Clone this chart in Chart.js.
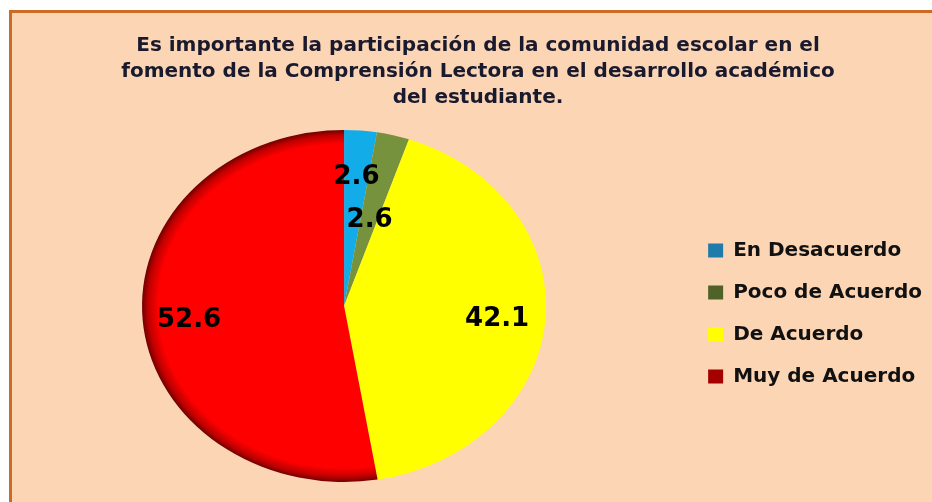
<!DOCTYPE html>
<html>
<head>
<meta charset="utf-8">
<script src="https://cdn.jsdelivr.net/npm/chart.js@4.4.0/dist/chart.umd.min.js"></script>
<style>
  html, body { margin: 0; padding: 0; background: #fff; overflow: hidden; }
  #frame {
    position: absolute; left: 9px; top: 10px;
    width: 1000px; height: 520px;
    border: 3px solid #CC6B24;
    background: #FCD5B5;
  }
  #c { position: absolute; left: 0; top: 0; }
</style>
</head>
<body>
<div id="frame"><canvas id="c" width="934" height="500"></canvas></div>
<script>
const categories = ['En Desacuerdo', 'Poco de Acuerdo', 'De Acuerdo', 'Muy de Acuerdo']
const values = [2.6, 2.6, 42.1, 52.6]
const titleLines = [
    'Es importante la participación de la comunidad escolar en el',
    'fomento de la Comprensión Lectora en el desarrollo académico',
    'del estudiante.'
]

const sliceColors = ['#12ADE8', '#76923C', '#FFFF00', '#FF0000']
const legendColors = ['#1F7BAA', '#4F6228', '#FFFF00', '#A50000']
const labelRadius = [0.75, 0.52, 0.76, 0.77]
const pieRadius = 176
const stretchX = 1.148

// pie is drawn a bit wider than tall, like the original
const ellipsePlugin = {
    id: 'ellipse',
    beforeDatasetsDraw(chart) {
        const a = chart.getDatasetMeta(0).data[0]
        const ctx = chart.ctx
        ctx.save()
        ctx.translate(a.x, a.y)
        ctx.scale(stretchX, 1)
        ctx.translate(-a.x, -a.y)
    },
    afterDatasetsDraw(chart) {
        const ctx = chart.ctx
        ctx.restore()
        ctx.save()
        ctx.font = 'bold 26px "DejaVu Sans"'
        ctx.fillStyle = '#000'
        ctx.textAlign = 'center'
        ctx.textBaseline = 'middle'
        chart.getDatasetMeta(0).data.forEach((arc, i) => {
            const mid = (arc.startAngle + arc.endAngle) / 2
            const r = arc.outerRadius * labelRadius[i]
            const x = arc.x + Math.cos(mid) * r * stretchX
            const y = arc.y + Math.sin(mid) * r + 3
            ctx.fillText(values[i].toFixed(1), x, y)
        })
        ctx.restore()
    }
}

// empty box between the pie and the legend
const spacerPlugin = {
    id: 'spacer',
    beforeInit(chart) {
        Chart.layouts.addBox(chart, {
            position: 'right',
            weight: 500,
            fullSize: false,
            options: {},
            isHorizontal() { return false },
            update(maxWidth, maxHeight) {
                this.width = 22
                this.height = maxHeight
            },
            draw() {}
        })
    }
}

// red slice gets the dark rim of the original
function sliceFill(context) {
    const i = context.dataIndex
    const area = context.chart.chartArea
    if (i !== 3 || !area) return sliceColors[i]
    const cx = (area.left + area.right) / 2
    const cy = (area.top + area.bottom) / 2
    const g = context.chart.ctx.createRadialGradient(cx, cy, 0, cx, cy, pieRadius)
    g.addColorStop(0, '#FF0000')
    g.addColorStop(0.92, '#FF0000')
    g.addColorStop(0.97, '#C00000')
    g.addColorStop(1, '#700000')
    return g
}

let ctx = document.getElementById('c').getContext('2d')
let myChart = new Chart(ctx, {
    type: 'pie',
    data: {
        labels: categories,
        datasets: [{
            data: values,
            backgroundColor: sliceFill,
            borderWidth: 0,
            hoverOffset: 0,
            radius: pieRadius
        }]
    },
    options: {
        responsive: false,
        animation: false,
        layout: {
            padding: { left: 12, right: 14, top: 0, bottom: 31 }
        },
        plugins: {
            tooltip: { enabled: false },
            title: {
                display: true,
                text: titleLines,
                color: '#1a1a2e',
                font: { family: '"DejaVu Sans"', size: 20, weight: 'bold', lineHeight: 1.3 },
                padding: { top: 20, bottom: 19 }
            },
            legend: {
                position: 'right',
                align: 'start',
                fullSize: false,
                maxWidth: 300,
                title: { display: true, text: '', font: { size: 12 }, padding: { top: 74, bottom: 0 } },
                labels: {
                    boxWidth: 15,
                    boxHeight: 14,
                    padding: 22,
                    color: '#000',
                    font: { family: '"DejaVu Sans"', size: 20, weight: 'bold' },
                    generateLabels: (chart) => categories.map((name, i) => ({
                        text: name,
                        fillStyle: legendColors[i],
                        strokeStyle: legendColors[i],
                        fontColor: '#111',
                        lineWidth: 0,
                        index: i
                    }))
                }
            }
        }
    },
    plugins: [ellipsePlugin, spacerPlugin]
});
</script>
</body>
</html>
